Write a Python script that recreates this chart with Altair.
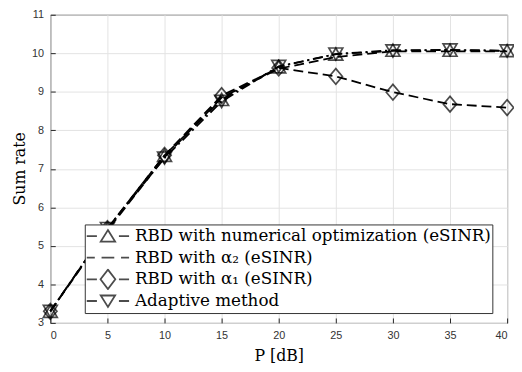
import altair as alt
import pandas as pd

P = [0, 5, 10, 15, 20, 25, 30, 35, 40]
series_names = [
    "RBD with numerical optimization (eSINR)",
    "RBD with α₂ (eSINR)",
    "RBD with α₁ (eSINR)",
    "Adaptive method",
]
rate_numopt = [3.3, 5.45, 7.35, 8.8, 9.65, 9.98, 10.08, 10.08, 10.07]
rate_alpha2 = [3.3, 5.4, 7.3, 8.85, 9.6, 9.9, 10.05, 10.05, 10.05]
rate_alpha1 = [3.3, 5.45, 7.35, 8.9, 9.62, 9.4, 8.99, 8.68, 8.59]
rate_adapt = [3.3, 5.45, 7.28, 8.75, 9.66, 9.98, 10.06, 10.09, 10.06]

rows = []
for name, vals in zip(series_names, [rate_numopt, rate_alpha2, rate_alpha1, rate_adapt]):
    for p, v in zip(P, vals):
        rows.append({"P": p, "rate": v, "series": name})
df = pd.DataFrame(rows)
legend_df = pd.DataFrame({"entry": series_names})

dash_dot = [10, 4, 2, 4]
dashed = [10, 5]
dashes = [dash_dot, dashed, dashed, dash_dot]
diamond_path = "M0,-1L0.85,0L0,1L-0.85,0Z"
marker_shapes = {series_names[0]: ("triangle-up", 200), series_names[2]: (diamond_path, 250),
                 series_names[3]: ("triangle-down", 200)}

legend_paths = [
    "M-1,0H-0.52M0.52,0H1M0,-0.28L0.34,0.26H-0.34Z",
    "M-1,0H-0.62M-0.3,0H0.3M0.62,0H1",
    "M-1,0H-0.52M0.52,0H1M0,-0.46L0.35,0L0,0.46L-0.35,0Z",
    "M-1,0H-0.52M0.52,0H1M0,0.28L0.34,-0.26H-0.34Z",
]

xs = alt.X("P:Q", scale=alt.Scale(domain=[0, 40], nice=False),
           axis=alt.Axis(values=P, title="P [dB]", titleFont="DejaVu Serif", titleFontSize=16,
                         titleFontWeight="normal", titleColor="black",
                         titleBaseline="top", titleY=30, offset=-5))
ys = alt.Y("rate:Q", scale=alt.Scale(domain=[3, 11], nice=False),
           axis=alt.Axis(values=list(range(3, 12)), title="Sum rate", titleFont="DejaVu Serif",
                         titleFontSize=16, titleFontWeight="normal", titleColor="black",
                         titleAngle=270, titleBaseline="bottom", titleAlign="center",
                         titleX=-28, titleY=156, offset=-5))

base = alt.Chart(df)

lines = base.mark_line(color="black", strokeWidth=1.8).encode(
    x=xs, y=ys,
    strokeDash=alt.StrokeDash("series:N", scale=alt.Scale(domain=series_names, range=dashes), legend=None),
    detail="series:N",
)

layers = [lines]
for name, (shp, sz) in marker_shapes.items():
    layers.append(
        base.transform_filter(alt.datum.series == name).mark_point(
            shape=shp, size=sz, filled=False, color="black", strokeWidth=1.7
        ).encode(x=xs, y=ys)
    )

legend_layer = alt.Chart(legend_df).mark_point(filled=False, color="black", strokeWidth=1.8, clip=True).encode(
    x=alt.value(-60), y=alt.value(-60),
    shape=alt.Shape("entry:N", scale=alt.Scale(domain=series_names, range=legend_paths),
                    legend=alt.Legend(title=None, orient="none", legendX=35, legendY=213,
                                      symbolSize=1849, clipHeight=21.5, rowPadding=0,
                                      labelFont="DejaVu Serif", labelFontSize=17, labelColor="black",
                                      labelOffset=5, labelLimit=600,
                                      symbolStrokeColor="black", symbolStrokeWidth=1.8,
                                      symbolFillColor="transparent",
                                      fillColor="white", strokeColor="#333333", padding=1,
                                      cornerRadius=0)),
)
layers.append(legend_layer)

chart = alt.layer(*layers).resolve_scale(shape="independent").properties(
    width=464, height=313,
    autosize=alt.AutoSizeParams(type="none"),
    padding={"left": 43, "top": 4, "right": 7, "bottom": 47},
).configure_view(stroke="#262626", strokeWidth=1).configure_axis(
    grid=True, gridColor="#e3e3e3", gridWidth=1, domain=False, ticks=True, tickSize=5,
    tickColor="#262626", tickWidth=1,
    labelFont="Liberation Sans", labelFontSize=11, labelColor="#333333", labelPadding=7,
)

chart.save("out.html", embed_options={"renderer": "svg", "actions": False})
